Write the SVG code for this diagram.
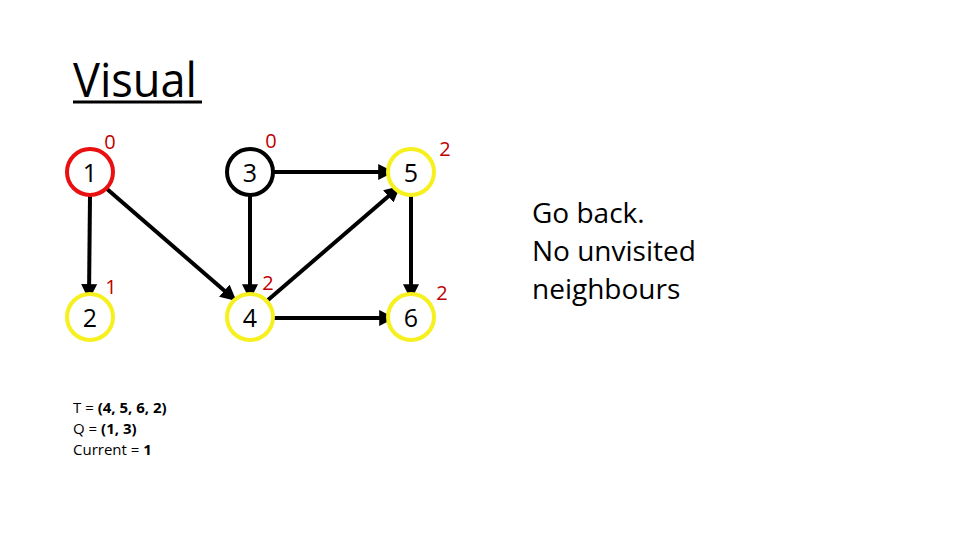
<svg xmlns="http://www.w3.org/2000/svg" width="960" height="540" viewBox="0 0 960 540">
<style>
.node circle{fill:#fff;stroke-width:4}
.num{font-family:"Open Sans","DejaVu Sans",sans-serif;font-size:25px;fill:#000;text-anchor:middle;dominant-baseline:central}
.lbl{font-family:"Open Sans","DejaVu Sans",sans-serif;font-size:20px;fill:#C00000;text-anchor:middle;dominant-baseline:central}
.edge{stroke:#000;stroke-width:4;fill:none;marker-end:url(#ah)}
.txt{font-family:"Open Sans","DejaVu Sans",sans-serif;fill:#000}
</style>
<defs>
<marker id="ah" markerWidth="4" markerHeight="4" refX="3.2" refY="2" orient="auto" markerUnits="strokeWidth" viewBox="0 0 4 4">
<path d="M0,0 L4,2 L0,4 Z" fill="#000"/>
</marker>
</defs>
<rect width="960" height="540" fill="#fff"/>
<text class="txt" x="73" y="97" font-size="47" textLength="124" lengthAdjust="spacingAndGlyphs">Visual</text>
<rect x="73" y="100.5" width="129" height="3" fill="#000"/>
<g id="connectors">
<line class="edge" x1="90" y1="196" x2="89" y2="297"/>
<line class="edge" x1="107" y1="189" x2="234" y2="299"/>
<line class="edge" x1="250" y1="196" x2="250" y2="297"/>
<line class="edge" x1="274" y1="172" x2="391" y2="172"/>
<line class="edge" x1="268" y1="300" x2="398" y2="188"/>
<line class="edge" x1="411" y1="196" x2="411" y2="297"/>
<line class="edge" x1="274" y1="318" x2="392" y2="318"/>
</g>
<g id="node1" class="node"><circle cx="90" cy="172" r="23" stroke="#E81010"/><text class="num" x="90" y="172">1</text><text class="lbl" x="110" y="141">0</text></g>
<g id="node2" class="node"><circle cx="90" cy="317" r="23" stroke="#F5F01E"/><text class="num" x="90" y="317">2</text><text class="lbl" x="111" y="286">1</text></g>
<g id="node3" class="node"><circle cx="250" cy="172" r="23" stroke="#000"/><text class="num" x="250" y="172">3</text><text class="lbl" x="271" y="140">0</text></g>
<g id="node4" class="node"><circle cx="250" cy="317" r="23" stroke="#F5F01E"/><text class="num" x="250" y="317">4</text><text class="lbl" x="268" y="282">2</text></g>
<g id="node5" class="node"><circle cx="411" cy="172" r="23" stroke="#F5F01E"/><text class="num" x="411" y="172">5</text><text class="lbl" x="445" y="148">2</text></g>
<g id="node6" class="node"><circle cx="411" cy="317" r="23" stroke="#F5F01E"/><text class="num" x="411" y="317">6</text><text class="lbl" x="442" y="292">2</text></g>
<g id="notes" class="txt" font-size="28">
<text x="532" y="223">Go back.</text>
<text x="532" y="261">No unvisited</text>
<text x="532" y="299">neighbours</text>
</g>
<g id="state" class="txt" font-size="15">
<text x="73" y="413">T = <tspan font-weight="bold">(4, 5, 6, 2)</tspan></text>
<text x="73" y="434">Q = <tspan font-weight="bold">(1, 3)</tspan></text>
<text x="73" y="455">Current = <tspan font-weight="bold">1</tspan></text>
</g>
</svg>
